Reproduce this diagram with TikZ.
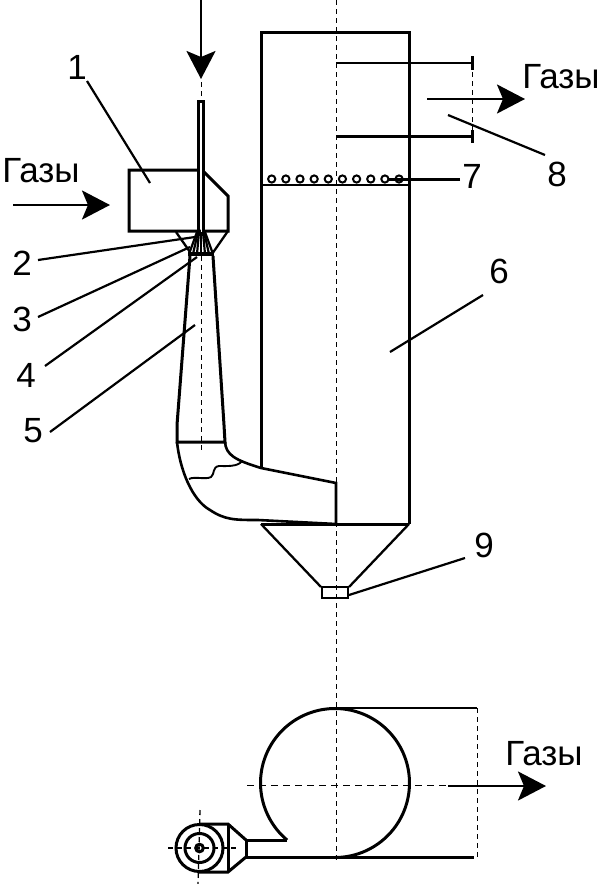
\documentclass[tikz,border=0pt]{standalone}
\usepackage{fontspec}
\setmainfont{Liberation Sans}
\usetikzlibrary{arrows.meta}
\tikzset{
  body/.style={line width=3pt,line join=miter},
  thin line/.style={line width=2.3pt},
  leader/.style={line width=2.2pt},
  axis/.style={line width=1pt,dash pattern=on 5pt off 4pt},
  flow/.style={line width=2.4pt,-{Stealth[length=28pt,width=29pt,inset=6pt]}},
  num/.style={font=\fontsize{35}{35}\selectfont,inner sep=0pt},
  gas/.style={font=\fontsize{35}{35}\selectfont,inner sep=0pt}
}
\begin{document}
\begin{tikzpicture}[x=1pt,y=-1pt]
\useasboundingbox (0,0) rectangle (600,884);
% axes
\draw[axis] (336,0) -- (336,860);
\draw[axis] (472,63) -- (472,136);
\draw[axis] (477,708) -- (477,858);
\draw[axis,dash pattern=on 7pt off 5pt] (247,785) -- (472,785);
% column
\draw[body] (261,468) -- (261,32) -- (409,32) -- (409,524);
\draw[body] (409,524) -- (261,524);
\draw[thin line] (261,524) -- (321,587);
\draw[thin line] (409,524) -- (349,587);
\draw[thin line] (322,587) rectangle (348,598);
% top nozzles
\draw[thin line] (336,63) -- (472,63);
\draw[body] (472,56) -- (472,70);
\draw[body] (336,136) -- (472,136);
\draw[body] (472,130) -- (472,143);
% bed
\draw[thin line] (261,185) -- (409,185);
\foreach \i in {0,...,9}
  \draw[line width=2pt] ({271.7+14.15*\i},179) circle (3.6);
% feed pipe
\draw[line width=3pt] (198.5,235) -- (198.5,101) -- (203.5,101) -- (203.5,235);
% head box
\draw[body] (197,170) -- (129,170) -- (129,231) -- (228,231) -- (228,196) -- (204,172);
\draw[thin line] (176,232) -- (190,252);
\draw[thin line] (228,231) -- (212,254);
\draw[line width=4pt] (188,254) -- (214,254);
\foreach \a/\b in {197/189,198/193,199/197,201/201,203/205,204/209,205/213}
  \draw[line width=2.2pt] (\a,232) -- (\b,254);
% cone
\draw[body] (190,256) -- (177,425) -- (177,442) -- (225,442) -- (224,425) -- (213,256);
\draw[axis] (201,256) -- (201,452);
\draw[axis,white,line width=0.9pt] (201,103) -- (201,232);
\draw[axis] (201,82) -- (201,100);
% elbow
\draw[line width=2.6pt] (177,442) .. controls (180,470) and (192,500) .. (210,510)
  .. controls (225,520) and (235,520) .. (258,520) -- (336,524);
\draw[line width=2.6pt] (225,442) .. controls (226,455) and (235,460) .. (261,468) -- (336,483) -- (336,524);
\draw[line width=1.9pt] (189,479) .. controls (195,476) and (205,480) .. (211,477)
  .. controls (215,474) and (212,467) .. (219,466) .. controls (226,466) and (238,467) .. (242,461);
% plan
\draw[body] plot[smooth,samples=60,domain=130:450] ({335+74.5*cos(\x)},{783+74.5*sin(\x)});
\draw[thin line] (335,708) -- (477,708);
\draw[body] (287,840) -- (246,840) -- (246,857) -- (474,857);
\draw[body] (199,824) -- (228,824) -- (246,840);
\draw[body] (199,872) -- (228,872) -- (246,857);
\draw[body] (228,824) -- (228,872);
\draw[body] (199.5,848) circle (23.5);
\draw[body] (199.5,848) circle (14.5);
\draw[line width=3pt] (199.5,848) circle (3.8);
\draw[axis,line width=1.3pt] (168,848) -- (238,848);
\draw[axis,line width=1.3pt] (200,810) -- (198,884);
% labels
\node[num] (n1) at (77,67) {1};
\node[num] (n2) at (22,263) {2};
\node[num] (n3) at (22,319) {3};
\node[num] (n4) at (26,375) {4};
\node[num] (n5) at (33,431) {5};
\node[num] (n6) at (499,271) {6};
\node[num] (n7) at (472,176) {7};
\node[num] (n8) at (557,174) {8};
\node[num] (n9) at (484,545) {9};
\node[gas] (g1) at (41,171) {Газы};
\node[gas] (g2) at (561,77) {Газы};
\node[gas] (g3) at (544,754) {Газы};
% leaders
\coordinate (t1) at (150,183);
\coordinate (t2) at (195,237);
\coordinate (t3) at (190,247);
\coordinate (t4) at (197,257);
\coordinate (t5) at (195,325);
\coordinate (t6) at (390,352);
\coordinate (t7) at (388,179);
\coordinate (t8) at (448,115);
\coordinate (t9) at (349,595);
\draw[leader] (n1) ++(10,14) -- (t1);
\draw[leader] (n2) ++(16,-3) -- (t2);
\draw[leader] (n3) ++(16,-2) -- (t3);
\draw[leader] (n4) ++(19,-9) -- (t4);
\draw[leader] (n5) ++(17,1) -- (t5);
\draw[leader] (n6) ++(-16,24) -- (t6);
\draw[body] (n7) ++(-12,3) -- (t7);
\draw[leader] (n8) ++(-12,-19) -- (t8);
\draw[leader] (n9) ++(-19,13) -- (t9);
% flows
\coordinate (a0) at (201,0);
\coordinate (a1) at (201,79);
\coordinate (b0) at (13,205);
\coordinate (b1) at (110,205);
\coordinate (c0) at (427,99);
\coordinate (c1) at (525,99);
\coordinate (d0) at (448,786);
\coordinate (d1) at (546,786);
\draw[flow] (a0) -- (a1);
\draw[flow] (b0) -- (b1);
\draw[flow] (c0) -- (c1);
\draw[flow] (d0) -- (d1);
\end{tikzpicture}
\end{document}
